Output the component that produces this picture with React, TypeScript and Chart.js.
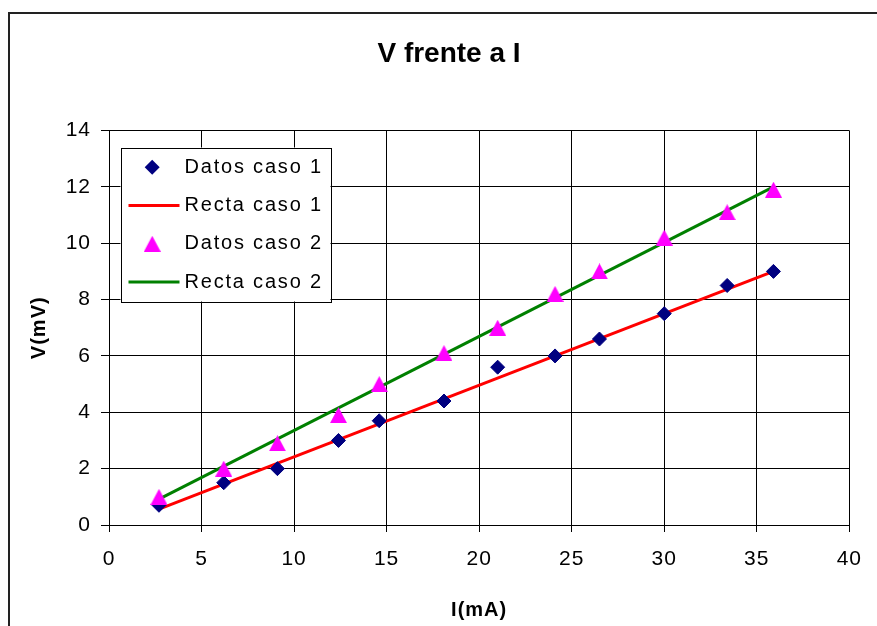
import React, { useEffect, useRef } from 'react';
import { Chart, registerables } from 'chart.js';

Chart.register(...registerables);

const TITLE = 'V frente a I';
const X_TITLE = 'I(mA)';
const Y_TITLE = 'V(mV)';

const CURRENT_MA = [2.7, 6.2, 9.1, 12.4, 14.6, 18.1, 21.0, 24.1, 26.5, 30.0, 33.4, 35.9];
const V_CASE1 = [0.7, 1.5, 2.0, 3.0, 3.7, 4.4, 5.6, 6.0, 6.6, 7.5, 8.5, 9.0];
const V_CASE2 = [1.0, 2.0, 2.9, 3.9, 5.0, 6.1, 7.0, 8.2, 9.0, 10.2, 11.1, 11.9];

const FIT_X = [2.7, 35.9];
const FIT_CASE1 = [0.56, 9.0];
const FIT_CASE2 = [0.92, 12.0];

const LABELS = ['Datos caso 1', 'Recta caso 1', 'Datos caso 2', 'Recta caso 2'];

const X_MIN = 0, X_MAX = 40, X_STEP = 5;
const Y_MIN = 0, Y_MAX = 14, Y_STEP = 2;

const FONT = '"Liberation Sans", Arial, sans-serif';
const NAVY = '#000080';
const MAGENTA = '#FF00FF';
const RED = '#FF0000';
const GREEN = '#008000';

function makeTriangle(w: number, h: number, color: string) {
  const c = document.createElement('canvas');
  c.width = w;
  c.height = h;
  const ctx = c.getContext('2d')!;
  ctx.fillStyle = color;
  ctx.beginPath();
  ctx.moveTo(w / 2, 0);
  ctx.lineTo(w, h);
  ctx.lineTo(0, h);
  ctx.closePath();
  ctx.fill();
  return c;
}

const pairs = (xs: number[], ys: number[]) => xs.map((x, i) => ({ x, y: ys[i] }));

export default function App() {
  const ref = useRef<HTMLCanvasElement | null>(null);

  useEffect(() => {
    const canvas = ref.current;
    if (!canvas) return;
    const tri = makeTriangle(17, 16, MAGENTA);

    const decor = {
      id: 'decor',
      beforeLayout(chart: any) {
        (chart.ctx as any).letterSpacing = '1px';
      },
      beforeDraw(chart: any) {
        const ctx = chart.ctx;
        ctx.save();
        ctx.fillStyle = '#fff';
        ctx.fillRect(0, 0, chart.width, chart.height);
        ctx.strokeStyle = '#222';
        ctx.lineWidth = 2;
        ctx.beginPath();
        ctx.moveTo(9, chart.height + 5);
        ctx.lineTo(9, 13);
        ctx.lineTo(chart.width + 5, 13);
        ctx.stroke();
        ctx.restore();
        (ctx as any).letterSpacing = '1px';
      },
      afterDraw(chart: any) {
        const ctx = chart.ctx;
        const ca = chart.chartArea;
        ctx.save();
        // title
        (ctx as any).letterSpacing = '0px';
        ctx.fillStyle = '#000';
        ctx.font = `bold 28px ${FONT}`;
        ctx.textAlign = 'center';
        ctx.textBaseline = 'alphabetic';
        ctx.fillText(TITLE, 449, 62);

        // legend
        const lx = ca.left + 11.5;
        const ly = ca.top + 17;
        const lw = 210;
        const lh = 154;
        ctx.fillStyle = '#fff';
        ctx.fillRect(lx, ly, lw, lh);
        ctx.strokeStyle = '#000';
        ctx.lineWidth = 1;
        ctx.strokeRect(Math.round(lx) + 0.5, Math.round(ly) + 0.5, lw, lh);
        const ds = chart.data.datasets;
        const rowY0 = ly + 19.7;
        const rowStep = 38.3;
        const markX = lx + 31.7;
        (ctx as any).letterSpacing = '1.8px';
        ctx.font = `20px ${FONT}`;
        ctx.textAlign = 'left';
        ctx.textBaseline = 'middle';
        for (let i = 0; i < ds.length; i++) {
          const y = rowY0 + i * rowStep;
          const d = ds[i];
          if (d.showLine) {
            ctx.strokeStyle = d.borderColor;
            ctx.lineWidth = 3;
            ctx.beginPath();
            ctx.moveTo(lx + 8, y);
            ctx.lineTo(lx + 59, y);
            ctx.stroke();
          } else if (d.pointStyle === 'rectRot') {
            ctx.fillStyle = d.backgroundColor;
            ctx.beginPath();
            ctx.moveTo(markX - 7.5, y);
            ctx.lineTo(markX, y - 7.5);
            ctx.lineTo(markX + 7.5, y);
            ctx.lineTo(markX, y + 7.5);
            ctx.closePath();
            ctx.fill();
          } else {
            ctx.drawImage(tri, markX - 8.5, y - 8);
          }
          ctx.fillStyle = '#000';
          ctx.fillText(d.label, lx + 64, y);
        }
        ctx.restore();
        (ctx as any).letterSpacing = '1px';
      },
    };

    const chart = new Chart(canvas, {
      type: 'scatter',
      data: {
        datasets: [
          {
            label: LABELS[0],
            data: pairs(CURRENT_MA, V_CASE1),
            pointStyle: 'rectRot',
            pointRadius: 7,
            pointHoverRadius: 7,
            backgroundColor: NAVY,
            borderColor: NAVY,
            borderWidth: 1,
            showLine: false,
            order: 1,
          },
          {
            label: LABELS[1],
            data: pairs(FIT_X, FIT_CASE1),
            showLine: true,
            borderColor: RED,
            backgroundColor: RED,
            borderWidth: 3,
            pointRadius: 0,
            pointHoverRadius: 0,
            order: 3,
          },
          {
            label: LABELS[2],
            data: pairs(CURRENT_MA, V_CASE2),
            pointStyle: tri as any,
            pointRadius: 8,
            backgroundColor: MAGENTA,
            borderColor: MAGENTA,
            showLine: false,
            order: 0,
          },
          {
            label: LABELS[3],
            data: pairs(FIT_X, FIT_CASE2),
            showLine: true,
            borderColor: GREEN,
            backgroundColor: GREEN,
            borderWidth: 3,
            pointRadius: 0,
            pointHoverRadius: 0,
            order: 2,
          },
        ] as any,
      },
      plugins: [decor],
      options: {
        animation: false,
        responsive: false,
        maintainAspectRatio: false,
        events: [],
        layout: { padding: { left: 0, top: 130.5, right: 26, bottom: 0 } },
        plugins: {
          legend: { display: false },
          title: { display: false },
          tooltip: { enabled: false },
        },
        scales: {
          x: {
            type: 'linear',
            min: X_MIN,
            max: X_MAX,
            afterFit(scale: any) {
              scale.height = 101;
            },
            ticks: {
              stepSize: X_STEP,
              color: '#000',
              padding: 15,
              font: { family: FONT, size: 21 },
              maxRotation: 0,
            },
            grid: { color: '#000', lineWidth: 1, drawTicks: true, tickLength: 7 },
            border: { color: '#000', width: 1 },
            title: {
              display: true,
              text: X_TITLE,
              color: '#000',
              font: { family: FONT, size: 20, weight: 'bold' },
              padding: { top: 0, bottom: 4 },
            },
          },
          y: {
            type: 'linear',
            min: Y_MIN,
            max: Y_MAX,
            afterFit(scale: any) {
              scale.width = 109;
            },
            ticks: {
              stepSize: Y_STEP,
              color: '#000',
              padding: 10,
              font: { family: FONT, size: 21 },
            },
            grid: { color: '#000', lineWidth: 1, drawTicks: true, tickLength: 8 },
            border: { color: '#000', width: 1 },
            title: {
              display: true,
              text: Y_TITLE,
              color: '#000',
              font: { family: FONT, size: 20, weight: 'bold' },
              padding: { top: 27, bottom: 0 },
            },
          },
        },
      } as any,
    });

    return () => chart.destroy();
  }, []);

  return (
    <div style={{ position: 'absolute', left: 0, top: 0, width: 877, height: 626, background: '#fff' }}>
      <canvas ref={ref} width={877} height={626} style={{ display: 'block', width: 877, height: 626 }} />
    </div>
  );
}
